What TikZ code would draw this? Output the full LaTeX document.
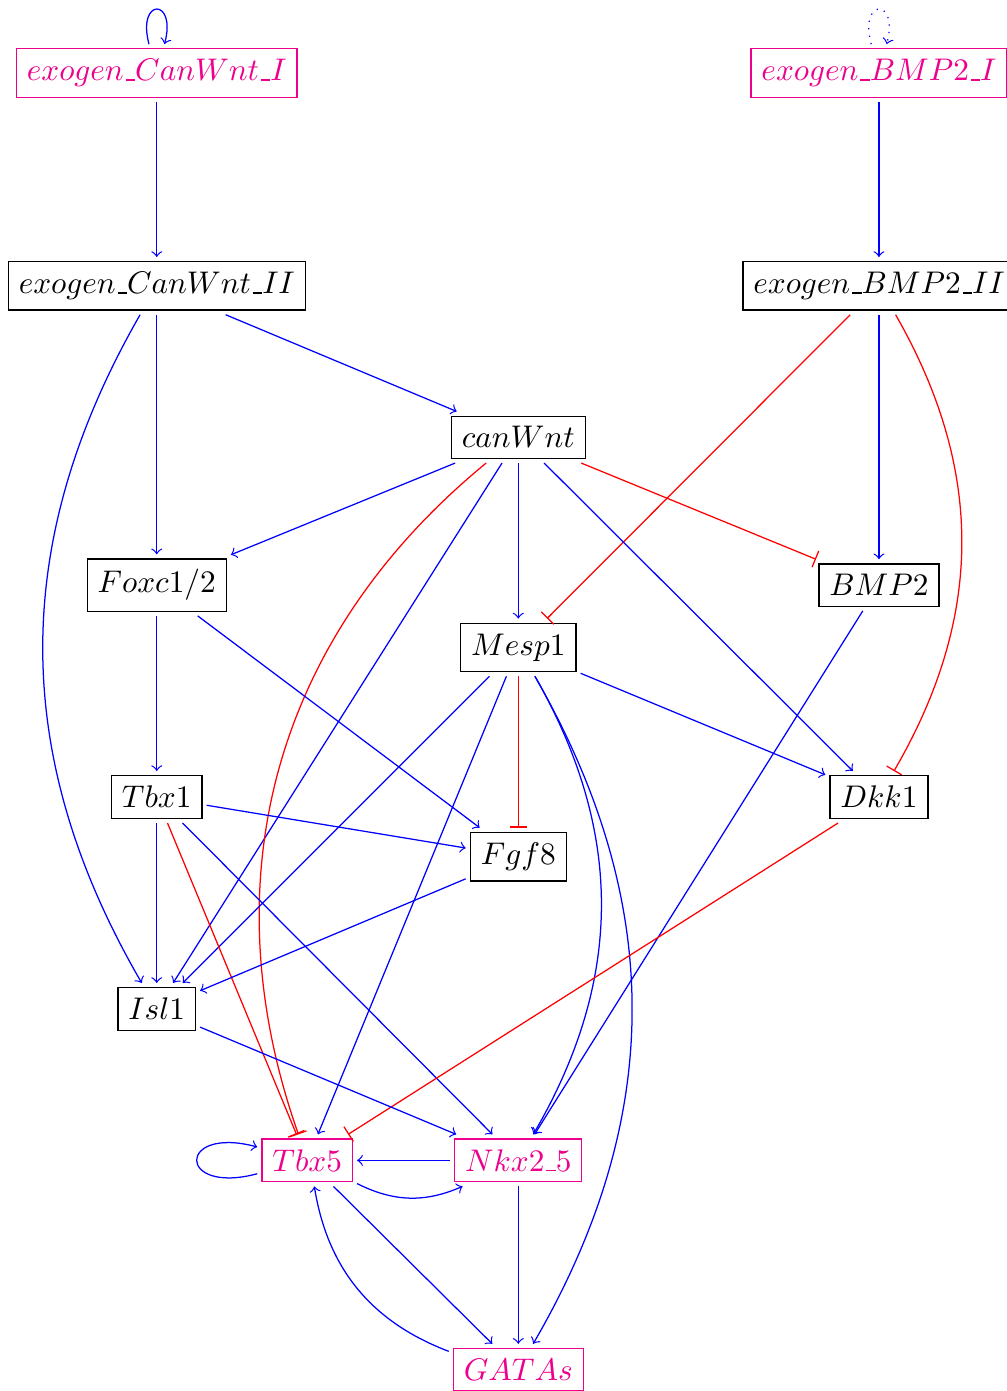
\documentclass[tikz,border=0pt]{standalone}
\usepackage{tikz}
\usetikzlibrary{arrows}
\definecolor{inpink}{RGB}{236,0,140}
% short rule as underscore in the gene names
\newcommand{\usc}{\kern.06em\vbox{\hrule width.3em}}

\begin{document}
\begin{tikzpicture}[gene/.style={draw, outer sep=1.5pt},
  outgene/.style={draw=inpink, text=inpink, outer sep=1.5pt},
  act/.style={->, blue},
  inh/.style={-|, red}]
\useasboundingbox (0,0) rectangle (11.30,-15.62);
% inputs
\node[outgene] (exoWntI) at (1.76,-0.82) {$exogen\usc CanWnt\usc I$};
\node[outgene] (exoBMPI) at (9.87,-0.82) {$exogen\usc BMP2\usc I$};
\node[gene] (exoWntII) at (1.76,-3.21) {$exogen\usc CanWnt\usc II$};
\node[gene] (exoBMPII) at (9.87,-3.21) {$exogen\usc BMP2\usc II$};
% signalling
\node[gene] (canWnt) at (5.82,-4.91) {$canWnt$};
\node[gene] (foxc) at (1.76,-6.57) {$Foxc1/2$};
\node[gene] (bmp) at (9.87,-6.57) {$BMP2$};
\node[gene] (mesp) at (5.82,-7.27) {$Mesp1$};
\node[gene] (tbxa) at (1.76,-8.95) {$Tbx1$};
\node[gene] (dkk) at (9.87,-8.95) {$Dkk1$};
\node[gene] (fgf) at (5.82,-9.62) {$Fgf8$};
\node[gene] (isl) at (1.76,-11.33) {$Isl1$};
% outputs
\node[outgene] (tbxb) at (3.45,-13.03) {$Tbx5$};
\node[outgene] (nkx) at (5.82,-13.03) {$Nkx2\usc 5$};
\node[outgene] (gata) at (5.82,-15.38) {$GATAs$};

\draw[act] (exoWntI) to[loop above] (exoWntI);
\draw[act, dotted] (exoBMPI) to[loop above] (exoBMPI);
\draw[act] (exoWntI) -- (exoWntII);
\draw[act] (exoBMPI) -- (exoBMPII);
\draw[act] (exoWntII) -- (canWnt);
\draw[act] (exoWntII) -- (foxc);
\draw[act] (exoWntII) to[bend right=30] (isl);
\draw[inh] (exoBMPII) -- (mesp);
\draw[act] (exoBMPII) -- (bmp);
\draw[inh] (exoBMPII) to[bend left=30] (dkk);
\draw[act] (canWnt) -- (foxc);
\draw[act] (canWnt) -- (isl);
\draw[inh] (canWnt) to[bend right=35] (tbxb);
\draw[act] (canWnt) -- (mesp);
\draw[act] (canWnt) -- (dkk);
\draw[inh] (canWnt) -- (bmp);
\draw[act] (foxc) -- (tbxa);
\draw[act] (foxc) -- (fgf);
\draw[act] (bmp) -- (nkx);
\draw[act] (mesp) -- (dkk);
\draw[act] (mesp) -- (isl);
\draw[act] (mesp) -- (tbxb);
\draw[inh] (mesp) -- (fgf);
\draw[act] (mesp) to[bend left=30] (nkx);
\draw[act] (mesp) to[bend left=30] (gata);
\draw[act] (tbxa) -- (fgf);
\draw[act] (tbxa) -- (isl);
\draw[inh] (tbxa) -- (tbxb);
\draw[act] (tbxa) -- (nkx);
\draw[act] (fgf) -- (isl);
\draw[inh] (dkk) -- (tbxb);
\draw[act] (isl) -- (nkx);
\draw[act] (tbxb) to[loop left] (tbxb);
\draw[act] (nkx) -- (tbxb);
\draw[act] (tbxb) to[bend right=25] (nkx);
\draw[act] (tbxb) -- (gata);
\draw[act] (gata) to[bend left=30] (tbxb);
\draw[act] (nkx) -- (gata);
\end{tikzpicture}
\end{document}
